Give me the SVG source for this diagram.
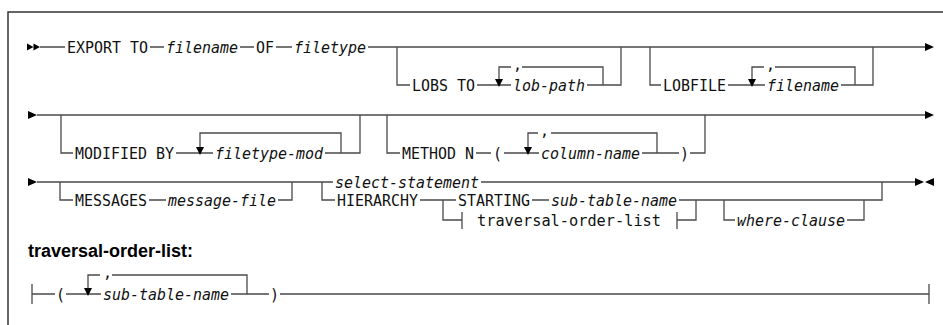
<svg xmlns="http://www.w3.org/2000/svg" width="943" height="325" viewBox="0 0 943 325">
<style>
.k{font-family:"DejaVu Sans Mono","Liberation Mono",monospace;font-size:15px;fill:#111}
.v{font-style:italic}
.h{font-family:"Liberation Sans",Arial,sans-serif;font-weight:bold;font-size:18px;fill:#000}
.c path{fill:none;stroke:#4a4a4a;stroke-width:1.3}
.c path.a{fill:#000;stroke:none}
.f{fill:none;stroke:#333;stroke-width:1.5}
</style>
<rect width="943" height="325" fill="#fff"/>
<path class="f" d="M8 325 V12 H943"/>
<g id="connectors" class="c">
<path d="M40 47 H65 M150 47 H164 M240 47 H254 M276 47 H292 M368 47 H925"/>
<path d="M397 47 V85 H410 M477 85 H511 M499 79 V67 H511 M522 67 H603 V85 M587 85 H621 V47"/>
<path d="M650 47 V85 H661 M728 85 H765 M752 79 V67 H764 M775 67 H855 V85 M841 85 H873 V47"/>
<path d="M37 115 H925"/>
<path d="M61 115 V153 H73 M176 153 H213 M200 147 V133 H341 V153 M325 153 H360 V115"/>
<path d="M387 115 V153 H400 M476 153 H491 M504 153 H539 M528 147 V133 H538 M551 133 H657 V153 M642 153 H679 M690 153 H705 V115"/>
<path d="M37 182 H333 M481 182 H915"/>
<path d="M60 182 V200 H73 M149 200 H166 M278 200 H292 V182"/>
<path d="M322 182 V200 H335 M420 200 H456 M532 200 H549 M679 200 H882 V182"/>
<path d="M443 200 V220 H462 M462 212 V229 M677 212 V229 M677 220 H696 V200"/>
<path d="M724 200 V220 H735 M847 220 H864 V200"/>
<path d="M32 284 V304 M32 294 H55 M66 294 H101 M88 288 V275 H100 M112 275 H247 V294 M231 294 H269 M280 294 H929 M929 284 V304"/>
<path class="a" d="M27 43.5 L33.5 47 L27 50.5 Z M33.5 43.5 L40 47 L33.5 50.5 Z"/>
<path class="a" d="M925 43 L934 47 L925 51 Z"/>
<path class="a" d="M28 111 L37 115 L28 119 Z M925 111 L934 115 L925 119 Z"/>
<path class="a" d="M28 178 L37 182 L28 186 Z M915 178 L924 182 L915 186 Z M934 178 L925 182 L934 186 Z"/>
<path class="a" d="M495 79 L503 79 L499 87 Z M748 79 L756 79 L752 87 Z M196 147 L204 147 L200 155 Z M524 147 L532 147 L528 155 Z M84 288 L92 288 L88 296 Z"/>
</g>
<g id="export-to"><text class="k" x="67" y="52.5" textLength="81" lengthAdjust="spacingAndGlyphs">EXPORT TO</text></g>
<g id="filename"><text class="k v" x="166" y="52.5" textLength="72" lengthAdjust="spacingAndGlyphs">filename</text></g>
<g id="of"><text class="k" x="256" y="52.5" textLength="18" lengthAdjust="spacingAndGlyphs">OF</text></g>
<g id="filetype"><text class="k v" x="294" y="52.5" textLength="72" lengthAdjust="spacingAndGlyphs">filetype</text></g>
<g id="lobs-to"><text class="k" x="412" y="90.5" textLength="63" lengthAdjust="spacingAndGlyphs">LOBS TO</text></g>
<g id="lob-path"><text class="k" x="513" y="70">,</text><text class="k v" x="513" y="90.5" textLength="72" lengthAdjust="spacingAndGlyphs">lob-path</text></g>
<g id="lobfile"><text class="k" x="663" y="90.5" textLength="63" lengthAdjust="spacingAndGlyphs">LOBFILE</text></g>
<g id="lobfile-filename"><text class="k" x="766" y="70">,</text><text class="k v" x="767" y="90.5" textLength="72" lengthAdjust="spacingAndGlyphs">filename</text></g>
<g id="modified-by"><text class="k" x="75" y="158.5" textLength="99" lengthAdjust="spacingAndGlyphs">MODIFIED BY</text></g>
<g id="filetype-mod"><text class="k v" x="215" y="158.5" textLength="108" lengthAdjust="spacingAndGlyphs">filetype-mod</text></g>
<g id="method-n"><text class="k" x="402" y="158.5" textLength="72" lengthAdjust="spacingAndGlyphs">METHOD N</text><text class="k" x="493" y="158.5">(</text></g>
<g id="column-name"><text class="k" x="540" y="136">,</text><text class="k v" x="541" y="158.5" textLength="99" lengthAdjust="spacingAndGlyphs">column-name</text><text class="k" x="680" y="158.5">)</text></g>
<g id="messages"><text class="k" x="75" y="205.5" textLength="72" lengthAdjust="spacingAndGlyphs">MESSAGES</text></g>
<g id="message-file"><text class="k v" x="168" y="205.5" textLength="108" lengthAdjust="spacingAndGlyphs">message-file</text></g>
<g id="select-statement"><text class="k v" x="335" y="187.5" textLength="144" lengthAdjust="spacingAndGlyphs">select-statement</text></g>
<g id="hierarchy"><text class="k" x="337" y="205.5" textLength="81" lengthAdjust="spacingAndGlyphs">HIERARCHY</text></g>
<g id="starting"><text class="k" x="458" y="205.5" textLength="72" lengthAdjust="spacingAndGlyphs">STARTING</text></g>
<g id="sub-table-name"><text class="k v" x="551" y="205.5" textLength="126" lengthAdjust="spacingAndGlyphs">sub-table-name</text></g>
<g id="traversal-ref"><text class="k" x="477" y="225.5" textLength="184" lengthAdjust="spacingAndGlyphs">traversal-order-list</text></g>
<g id="where-clause"><text class="k v" x="737" y="225.5" textLength="108" lengthAdjust="spacingAndGlyphs">where-clause</text></g>
<g id="fragment-title"><text class="h" x="28" y="257">traversal-order-list:</text></g>
<g id="fragment-open"><text class="k" x="56" y="299.5">(</text></g>
<g id="fragment-sub-table-name"><text class="k" x="103" y="278">,</text><text class="k v" x="103" y="299.5" textLength="126" lengthAdjust="spacingAndGlyphs">sub-table-name</text></g>
<g id="fragment-close"><text class="k" x="270" y="299.5">)</text></g>
</svg>
